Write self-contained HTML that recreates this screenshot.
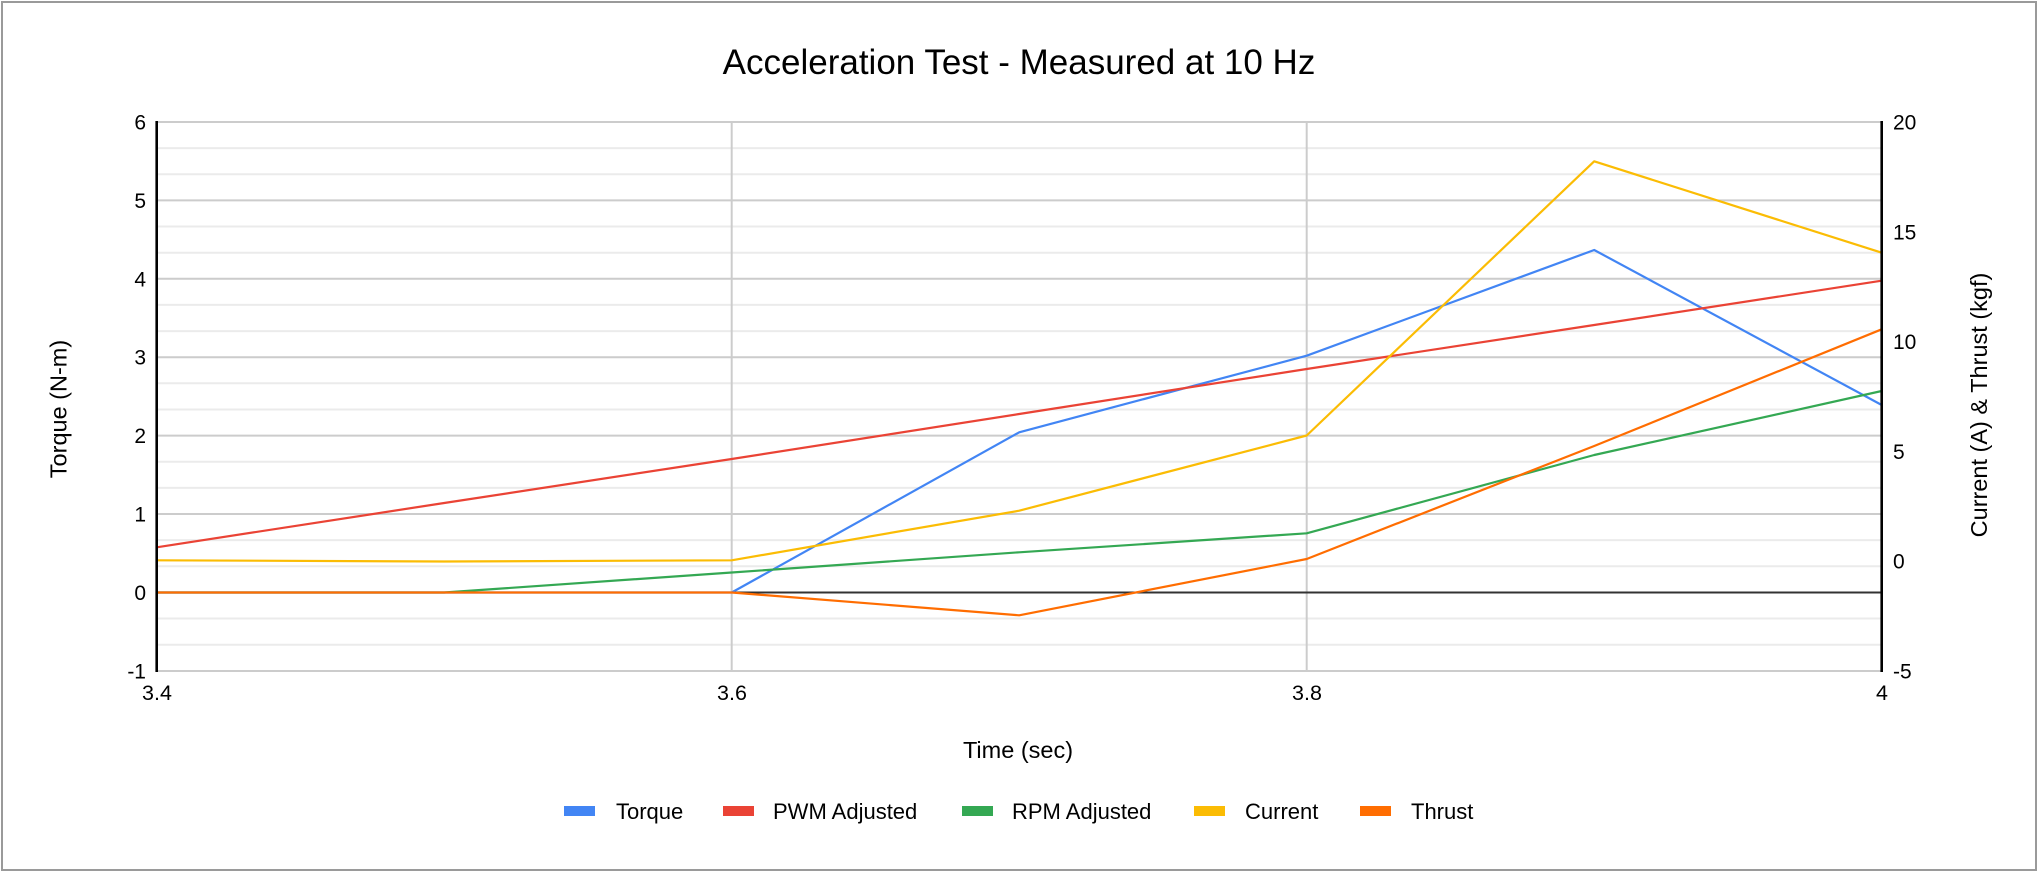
<!DOCTYPE html>
<html>
<head>
<meta charset="utf-8">
<style>
html,body{margin:0;padding:0;background:#fff;}
body{width:2038px;height:872px;overflow:hidden;position:relative;}
svg{position:absolute;left:0;top:0;}
text{font-family:"Liberation Sans",Arial,sans-serif;fill:#000;}
</style>
</head>
<body>
<svg width="2038" height="872" viewBox="0 0 2038 872" xmlns="http://www.w3.org/2000/svg">
<rect x="0" y="0" width="2038" height="872" fill="#fff"/>
<rect x="2" y="2" width="2034" height="868" fill="none" stroke="#9a9a9a" stroke-width="2"/>

<!-- Title -->
<text x="1019" y="74" font-size="35" text-anchor="middle">Acceleration Test - Measured at 10 Hz</text>

<!-- minor gridlines -->
<g stroke="#ebebeb" stroke-width="2">
<line x1="156.7" x2="1881.7" y1="148.1" y2="148.1"/>
<line x1="156.7" x2="1881.7" y1="174.3" y2="174.3"/>
<line x1="156.7" x2="1881.7" y1="226.5" y2="226.5"/>
<line x1="156.7" x2="1881.7" y1="252.7" y2="252.7"/>
<line x1="156.7" x2="1881.7" y1="304.9" y2="304.9"/>
<line x1="156.7" x2="1881.7" y1="331.1" y2="331.1"/>
<line x1="156.7" x2="1881.7" y1="383.3" y2="383.3"/>
<line x1="156.7" x2="1881.7" y1="409.5" y2="409.5"/>
<line x1="156.7" x2="1881.7" y1="461.7" y2="461.7"/>
<line x1="156.7" x2="1881.7" y1="487.9" y2="487.9"/>
<line x1="156.7" x2="1881.7" y1="540.1" y2="540.1"/>
<line x1="156.7" x2="1881.7" y1="566.3" y2="566.3"/>
<line x1="156.7" x2="1881.7" y1="618.5" y2="618.5"/>
<line x1="156.7" x2="1881.7" y1="644.7" y2="644.7"/>
</g>
<!-- major gridlines -->
<g stroke="#cccccc" stroke-width="2">
<line x1="156.7" x2="1881.7" y1="122" y2="122"/>
<line x1="156.7" x2="1881.7" y1="200.4" y2="200.4"/>
<line x1="156.7" x2="1881.7" y1="278.8" y2="278.8"/>
<line x1="156.7" x2="1881.7" y1="357.2" y2="357.2"/>
<line x1="156.7" x2="1881.7" y1="435.6" y2="435.6"/>
<line x1="156.7" x2="1881.7" y1="514" y2="514"/>
<line x1="156.7" x2="1881.7" y1="671" y2="671"/>
<line x1="731.7" x2="731.7" y1="122" y2="671"/>
<line x1="1306.7" x2="1306.7" y1="122" y2="671"/>
</g>
<!-- zero baseline -->
<line x1="156.7" x2="1881.7" y1="592.5" y2="592.5" stroke="#333" stroke-width="2"/>

<!-- series -->
<g fill="none" stroke-width="2.2" stroke-linejoin="round">
<polyline stroke="#4285F4" points="156.7,592.5 444.2,592.5 731.7,592.5 1019.2,432.3 1306.7,355.7 1594.2,250 1881.7,405"/>
<polyline stroke="#EA4335" points="156.7,547.3 444.2,503 731.7,459 1019.2,414 1306.7,369 1594.2,325 1881.7,280.7"/>
<polyline stroke="#34A853" points="156.7,592.5 444.2,592.5 731.7,572.5 1019.2,552.3 1306.7,533.3 1594.2,455 1881.7,391"/>
<polyline stroke="#FBBC04" points="156.7,560.3 444.2,561.5 731.7,560.3 1019.2,510.7 1306.7,435.5 1594.2,161.3 1881.7,252.7"/>
<polyline stroke="#FF6D01" points="156.7,592.5 444.2,592.5 731.7,592.5 1019.2,615.3 1306.7,559 1594.2,446 1881.7,329.3"/>
</g>

<!-- axes -->
<line x1="156.7" x2="156.7" y1="121" y2="672" stroke="#000" stroke-width="2.6"/>
<line x1="1881.7" x2="1881.7" y1="121" y2="672" stroke="#000" stroke-width="2.6"/>

<!-- left tick labels -->
<g font-size="21" text-anchor="end">
<text x="146" y="129.5">6</text>
<text x="146" y="207.9">5</text>
<text x="146" y="286.3">4</text>
<text x="146" y="364.7">3</text>
<text x="146" y="443.1">2</text>
<text x="146" y="521.5">1</text>
<text x="146" y="600">0</text>
<text x="146" y="678.5">-1</text>
</g>
<!-- right tick labels -->
<g font-size="21" text-anchor="start">
<text x="1893" y="129.5">20</text>
<text x="1893" y="239.3">15</text>
<text x="1893" y="349.1">10</text>
<text x="1893" y="458.9">5</text>
<text x="1893" y="568.7">0</text>
<text x="1893" y="678.5">-5</text>
</g>
<!-- x tick labels -->
<g font-size="21.5" text-anchor="middle">
<text x="157" y="700">3.4</text>
<text x="732" y="700">3.6</text>
<text x="1307" y="700">3.8</text>
<text x="1882" y="700">4</text>
</g>

<!-- axis titles -->
<text x="1018" y="758" font-size="23.5" text-anchor="middle">Time (sec)</text>
<text transform="translate(66.5,409) rotate(-90)" font-size="23.5" text-anchor="middle">Torque (N-m)</text>
<text transform="translate(1987,405) rotate(-90)" font-size="23.5" text-anchor="middle">Current (A) &amp; Thrust (kgf)</text>

<!-- legend -->
<g font-size="22">
<rect x="564" y="806" width="31" height="10" fill="#4285F4"/>
<text x="616" y="819">Torque</text>
<rect x="723" y="806" width="31" height="10" fill="#EA4335"/>
<text x="773" y="819">PWM Adjusted</text>
<rect x="962" y="806" width="31" height="10" fill="#34A853"/>
<text x="1012" y="819">RPM Adjusted</text>
<rect x="1194" y="806" width="31" height="10" fill="#FBBC04"/>
<text x="1245" y="819">Current</text>
<rect x="1360" y="806" width="31" height="10" fill="#FF6D01"/>
<text x="1411" y="819">Thrust</text>
</g>
</svg>
</body>
</html>
